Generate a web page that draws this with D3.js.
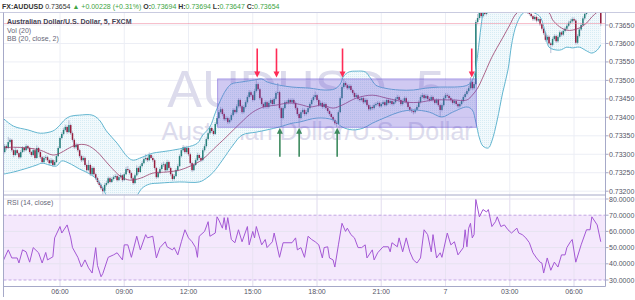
<!DOCTYPE html>
<html><head><meta charset="utf-8">
<script src="https://cdnjs.cloudflare.com/ajax/libs/d3/7.8.5/d3.min.js"></script>
<style>body{margin:0;background:#fff}svg{display:block;font-family:"Liberation Sans",Arial,sans-serif}</style>
</head><body><svg id="chart" width="635" height="300"></svg>
<script>
// ---------------- DATA ----------------
const symbol = "FX:AUDUSD";
const legendLines = ["Australian Dollar/U.S. Dollar, 5, FXCM", "Vol (20)", "BB (20, close, 2)"];
const rsiLabel = "RSI (14, close)";
const watermark = "AUDUSD, 5";
const watermarkSub = "Australian Dollar/U.S. Dollar";
const dayChange = 0.00228, dayChangePct = 0.31;
const startTime = Date.UTC(2016, 5, 6, 3, 20);   // first 5-min bar
const barMinutes = 5;
const firstOpen = 0.73315;
const closes = [
0.73306,0.73322,0.73317,0.73333,0.73339,0.73311,0.73298,0.73311,0.73303,0.73292,
0.73306,0.73317,0.73311,0.73322,0.73317,0.73306,0.73298,0.73311,0.73290,0.73317,
0.73306,0.73292,0.73279,0.73290,0.73292,0.73284,0.73276,0.73284,0.73271,0.73279,
0.73295,0.73317,0.73344,0.73355,0.73366,0.73374,0.73360,0.73379,0.73357,0.73339,
0.73319,0.73325,0.73311,0.73295,0.73284,0.73290,0.73271,0.73257,0.73271,0.73246,
0.73263,0.73246,0.73235,0.73225,0.73217,0.73208,0.73200,0.73217,0.73222,0.73235,
0.73225,0.73233,0.73238,0.73241,0.73230,0.73238,0.73243,0.73230,0.73246,0.73260,
0.73257,0.73249,0.73235,0.73222,0.73243,0.73263,0.73252,0.73268,0.73276,0.73287,
0.73290,0.73284,0.73298,0.73290,0.73284,0.73263,0.73238,0.73249,0.73260,0.73271,
0.73273,0.73257,0.73279,0.73263,0.73246,0.73233,0.73241,0.73257,0.73268,0.73295,
0.73311,0.73319,0.73306,0.73317,0.73300,0.73276,0.73257,0.73271,0.73284,0.73298,
0.73290,0.73284,0.73311,0.73322,0.73341,0.73357,0.73371,0.73363,0.73355,0.73382,
0.73398,0.73414,0.73422,0.73409,0.73395,0.73398,0.73387,0.73393,0.73406,0.73420,
0.73414,0.73430,0.73447,0.73430,0.73414,0.73428,0.73441,0.73455,0.73468,0.73460,
0.73447,0.73471,0.73490,0.73476,0.73452,0.73436,0.73428,0.73441,0.73428,0.73439,
0.73447,0.73436,0.73450,0.73466,0.73468,0.73425,0.73398,0.73425,0.73441,0.73439,
0.73447,0.73441,0.73447,0.73439,0.73425,0.73409,0.73398,0.73414,0.73420,0.73409,
0.73414,0.73425,0.73436,0.73447,0.73455,0.73460,0.73447,0.73433,0.73439,0.73428,
0.73436,0.73425,0.73417,0.73409,0.73401,0.73393,0.73384,0.73382,0.73414,0.73452,
0.73482,0.73493,0.73487,0.73479,0.73485,0.73474,0.73466,0.73455,0.73460,0.73450,
0.73447,0.73452,0.73441,0.73447,0.73433,0.73422,0.73428,0.73425,0.73433,0.73436,
0.73439,0.73430,0.73436,0.73441,0.73433,0.73447,0.73439,0.73444,0.73436,0.73441,
0.73450,0.73455,0.73447,0.73436,0.73444,0.73452,0.73441,0.73428,0.73420,0.73417,
0.73414,0.73420,0.73428,0.73441,0.73455,0.73460,0.73452,0.73458,0.73450,0.73447,
0.73455,0.73447,0.73439,0.73447,0.73433,0.73420,0.73433,0.73452,0.73460,0.73458,
0.73452,0.73447,0.73439,0.73444,0.73436,0.73430,0.73436,0.73444,0.73455,0.73463,
0.73471,0.73479,0.73496,0.73479,0.73490,0.73658,0.73669,0.73685,0.73674,0.73691,
0.73680,0.73692,0.73698,0.73690,0.73700,0.73708,0.73702,0.73712,0.73716,0.73705,
0.73708,0.73712,0.73702,0.73705,0.73698,0.73694,0.73700,0.73705,0.73708,0.73696,
0.73700,0.73692,0.73695,0.73686,0.73684,0.73680,0.73674,0.73666,0.73672,0.73662,
0.73666,0.73652,0.73640,0.73628,0.73610,0.73618,0.73600,0.73596,0.73612,0.73620,
0.73606,0.73618,0.73630,0.73624,0.73634,0.73640,0.73648,0.73656,0.73660,0.73666,
0.73662,0.73602,0.73620,0.73638,0.73650,0.73668,0.73680,0.73692,0.73688,0.73700,
0.73712,0.73700,0.73690,0.73698,0.73694,0.73654];
const highs = [
0.73321,0.73328,0.73326,0.73347,0.73344,0.73342,0.73315,0.73318,0.73314,0.73307,
0.73311,0.73322,0.73320,0.73328,0.73325,0.73320,0.73309,0.73316,0.73314,0.73324,
0.73320,0.73309,0.73296,0.73295,0.73298,0.73296,0.73288,0.73290,0.73287,0.73284,
0.73300,0.73322,0.73349,0.73360,0.73372,0.73380,0.73378,0.73392,0.73383,0.73362,
0.73343,0.73331,0.73329,0.73315,0.73299,0.73296,0.73294,0.73275,0.73284,0.73275,
0.73268,0.73267,0.73250,0.73239,0.73229,0.73221,0.73212,0.73222,0.73228,0.73240,
0.73239,0.73238,0.73243,0.73246,0.73245,0.73243,0.73249,0.73246,0.73251,0.73266,
0.73268,0.73261,0.73253,0.73239,0.73248,0.73270,0.73267,0.73273,0.73282,0.73292,
0.73300,0.73294,0.73305,0.73302,0.73296,0.73288,0.73266,0.73254,0.73265,0.73277,
0.73280,0.73277,0.73285,0.73283,0.73267,0.73250,0.73246,0.73262,0.73274,0.73300,
0.73317,0.73325,0.73323,0.73323,0.73321,0.73304,0.73280,0.73276,0.73289,0.73304,
0.73302,0.73294,0.73316,0.73328,0.73346,0.73362,0.73376,0.73375,0.73367,0.73387,
0.73403,0.73420,0.73428,0.73426,0.73413,0.73404,0.73402,0.73399,0.73411,0.73425,
0.73424,0.73436,0.73452,0.73451,0.73434,0.73433,0.73446,0.73460,0.73474,0.73472,
0.73464,0.73477,0.73504,0.73494,0.73480,0.73456,0.73440,0.73446,0.73445,0.73444,
0.73452,0.73451,0.73455,0.73471,0.73493,0.73472,0.73429,0.73430,0.73446,0.73446,
0.73452,0.73451,0.73452,0.73451,0.73443,0.73429,0.73413,0.73419,0.73426,0.73424,
0.73420,0.73430,0.73441,0.73452,0.73461,0.73470,0.73464,0.73451,0.73445,0.73443,
0.73441,0.73440,0.73429,0.73421,0.73413,0.73405,0.73397,0.73390,0.73419,0.73457,
0.73488,0.73504,0.73498,0.73491,0.73490,0.73489,0.73478,0.73470,0.73466,0.73464,
0.73455,0.73458,0.73456,0.73452,0.73451,0.73437,0.73433,0.73433,0.73438,0.73441,
0.73444,0.73443,0.73441,0.73446,0.73445,0.73452,0.73451,0.73449,0.73448,0.73446,
0.73455,0.73461,0.73459,0.73451,0.73449,0.73457,0.73456,0.73445,0.73432,0.73425,
0.73421,0.73425,0.73433,0.73446,0.73460,0.73466,0.73464,0.73463,0.73462,0.73455,
0.73460,0.73459,0.73451,0.73452,0.73451,0.73437,0.73438,0.73457,0.73466,0.73465,
0.73462,0.73456,0.73451,0.73449,0.73448,0.73440,0.73441,0.73449,0.73460,0.73468,
0.73476,0.73485,0.73509,0.73500,0.73496,0.73664,0.73680,0.73692,0.73690,0.73698,
0.73696,0.73697,0.73703,0.73702,0.73705,0.73713,0.73712,0.73717,0.73722,0.73720,
0.73713,0.73717,0.73716,0.73710,0.73709,0.73702,0.73705,0.73710,0.73713,0.73712,
0.73705,0.73704,0.73700,0.73699,0.73690,0.73688,0.73684,0.73678,0.73677,0.73676,
0.73671,0.73670,0.73656,0.73644,0.73632,0.73623,0.73622,0.73604,0.73617,0.73625,
0.73624,0.73623,0.73635,0.73634,0.73639,0.73645,0.73653,0.73661,0.73666,0.73671,
0.73671,0.73666,0.73625,0.73643,0.73655,0.73673,0.73686,0.73698,0.73697,0.73706,
0.73718,0.73716,0.73704,0.73703,0.73702,0.73694];
const lows = [
0.73300,0.73302,0.73311,0.73314,0.73328,0.73306,0.73292,0.73295,0.73298,0.73287,
0.73289,0.73303,0.73306,0.73308,0.73312,0.73301,0.73293,0.73295,0.73285,0.73288,
0.73302,0.73287,0.73274,0.73276,0.73284,0.73279,0.73270,0.73273,0.73266,0.73268,
0.73276,0.73292,0.73314,0.73340,0.73351,0.73362,0.73355,0.73357,0.73352,0.73334,
0.73314,0.73315,0.73306,0.73290,0.73279,0.73280,0.73266,0.73252,0.73254,0.73241,
0.73243,0.73241,0.73230,0.73220,0.73212,0.73203,0.73190,0.73197,0.73213,0.73219,
0.73221,0.73222,0.73229,0.73234,0.73226,0.73227,0.73234,0.73225,0.73227,0.73243,
0.73252,0.73245,0.73230,0.73217,0.73219,0.73240,0.73247,0.73249,0.73264,0.73273,
0.73283,0.73279,0.73281,0.73286,0.73279,0.73258,0.73233,0.73235,0.73246,0.73256,
0.73266,0.73252,0.73254,0.73258,0.73241,0.73228,0.73229,0.73238,0.73253,0.73265,
0.73291,0.73307,0.73301,0.73302,0.73295,0.73271,0.73252,0.73254,0.73268,0.73281,
0.73285,0.73279,0.73281,0.73307,0.73318,0.73337,0.73353,0.73358,0.73350,0.73352,
0.73378,0.73395,0.73410,0.73404,0.73390,0.73390,0.73382,0.73383,0.73389,0.73402,
0.73409,0.73410,0.73426,0.73425,0.73409,0.73410,0.73424,0.73437,0.73451,0.73455,
0.73442,0.73444,0.73467,0.73471,0.73447,0.73431,0.73423,0.73424,0.73423,0.73424,
0.73435,0.73431,0.73432,0.73446,0.73461,0.73420,0.73374,0.73394,0.73421,0.73434,
0.73435,0.73436,0.73437,0.73434,0.73420,0.73404,0.73374,0.73394,0.73410,0.73404,
0.73405,0.73410,0.73421,0.73432,0.73443,0.73450,0.73442,0.73428,0.73429,0.73423,
0.73424,0.73420,0.73412,0.73404,0.73396,0.73388,0.73379,0.73374,0.73379,0.73411,
0.73448,0.73478,0.73482,0.73474,0.73475,0.73469,0.73461,0.73450,0.73451,0.73445,
0.73442,0.73443,0.73436,0.73437,0.73428,0.73417,0.73418,0.73420,0.73421,0.73429,
0.73432,0.73426,0.73426,0.73432,0.73429,0.73430,0.73435,0.73435,0.73432,0.73432,
0.73437,0.73446,0.73443,0.73431,0.73432,0.73440,0.73436,0.73423,0.73415,0.73412,
0.73408,0.73410,0.73416,0.73424,0.73437,0.73451,0.73447,0.73448,0.73445,0.73442,
0.73443,0.73442,0.73434,0.73435,0.73428,0.73400,0.73416,0.73429,0.73448,0.73453,
0.73447,0.73442,0.73434,0.73435,0.73431,0.73425,0.73426,0.73432,0.73440,0.73451,
0.73459,0.73467,0.73475,0.73474,0.73475,0.73487,0.73652,0.73664,0.73668,0.73670,
0.73676,0.73676,0.73688,0.73686,0.73687,0.73696,0.73698,0.73699,0.73708,0.73701,
0.73701,0.73704,0.73698,0.73698,0.73694,0.73690,0.73690,0.73696,0.73701,0.73692,
0.73692,0.73688,0.73688,0.73682,0.73680,0.73676,0.73670,0.73661,0.73662,0.73657,
0.73658,0.73647,0.73635,0.73623,0.73605,0.73606,0.73595,0.73574,0.73592,0.73608,
0.73601,0.73602,0.73614,0.73619,0.73620,0.73630,0.73636,0.73644,0.73652,0.73656,
0.73657,0.73597,0.73598,0.73616,0.73634,0.73646,0.73664,0.73676,0.73683,0.73684,
0.73696,0.73695,0.73685,0.73686,0.73690,0.73647];
// Bollinger bands: [bar index, price]
const bbUpper = [[0,0.73398],[6,0.73376],[14,0.73366],[21,0.73357],[28,0.73363],[31,0.73374],[35,0.73395],[38,0.73403],[43,0.73406],[50,0.73406],[54,0.73393],[58,0.73363],[64,0.73330],[70,0.73292],[73,0.73284],[78,0.73292],[84,0.73303],[88,0.73306],[95,0.73311],[103,0.73319],[109,0.73330],[112,0.73352],[116,0.73374],[119,0.73412],[122,0.73447],[125,0.73474],[128,0.73490],[134,0.73496],[141,0.73501],[145,0.73504],[148,0.73496],[155,0.73487],[162,0.73482],[172,0.73479],[180,0.73474],[186,0.73477],[189,0.73490],[191,0.73512],[194,0.73523],[198,0.73525],[203,0.73523],[206,0.73506],[209,0.73487],[214,0.73479],[222,0.73474],[230,0.73474],[237,0.73479],[245,0.73482],[253,0.73482],[259,0.73485],[262,0.73493],[264,0.73512],[265,0.73533],[266,0.73569],[267,0.73609],[268,0.73650],[269,0.73685],[271,0.73750],[275,0.73800],[280,0.73820],[285,0.73815],[290,0.73790],[295,0.73760],[300,0.73740],[306,0.73760],[312,0.73755],[318,0.73745],[324,0.73740],[330,0.73755],[335,0.73770]];
const bbBasis = [[0,0.73317],[6,0.73319],[14,0.73317],[21,0.73311],[28,0.73298],[32,0.73303],[36,0.73314],[41,0.73325],[47,0.73325],[53,0.73306],[56,0.73290],[60,0.73268],[66,0.73240],[71,0.73230],[77,0.73235],[84,0.73249],[92,0.73252],[99,0.73257],[105,0.73268],[110,0.73280],[114,0.73295],[118,0.73314],[125,0.73346],[133,0.73384],[140,0.73414],[146,0.73428],[153,0.73433],[161,0.73439],[168,0.73433],[172,0.73428],[179,0.73433],[185,0.73425],[190,0.73433],[198,0.73452],[207,0.73460],[215,0.73452],[226,0.73441],[234,0.73441],[241,0.73447],[252,0.73447],[260,0.73447],[263,0.73460],[266,0.73479],[269,0.73509],[274,0.73563],[280,0.73615],[284,0.73650],[287,0.73677],[290,0.73690],[295,0.73695],[300,0.73690],[306,0.73683],[308,0.73664],[312,0.73645],[316,0.73636],[319,0.73636],[323,0.73642],[327,0.73655],[330,0.73672],[333,0.73685],[335,0.73696]];
const bbLower = [[0,0.73246],[6,0.73252],[14,0.73263],[19,0.73271],[22,0.73276],[26,0.73271],[30,0.73268],[33,0.73282],[37,0.73276],[43,0.73260],[49,0.73246],[53,0.73230],[56,0.73208],[58,0.73187],[60,0.73168],[66,0.73154],[71,0.73162],[75,0.73187],[78,0.73208],[82,0.73219],[88,0.73222],[99,0.73225],[110,0.73225],[114,0.73235],[118,0.73252],[123,0.73284],[129,0.73325],[134,0.73352],[142,0.73360],[148,0.73366],[155,0.73374],[162,0.73384],[166,0.73387],[176,0.73398],[185,0.73393],[190,0.73374],[196,0.73366],[202,0.73371],[207,0.73384],[215,0.73401],[222,0.73414],[230,0.73420],[239,0.73414],[246,0.73401],[252,0.73414],[260,0.73428],[263,0.73420],[265,0.73387],[267,0.73344],[269,0.73322],[272,0.73317],[274,0.73336],[277,0.73393],[280,0.73466],[283,0.73528],[285,0.73596],[287,0.73640],[289,0.73665],[291,0.73680],[294,0.73688],[298,0.73682],[301,0.73672],[304,0.73628],[306,0.73590],[312,0.73582],[316,0.73590],[319,0.73588],[323,0.73590],[327,0.73580],[330,0.73574],[333,0.73582],[335,0.73596]];
// RSI (14): [bar index, value]
const rsi = [[0,41.4],[3,48.6],[5,43.6],[8,43.6],[9,40.5],[11,48.6],[13,47.4],[15,41],[17,50],[20,46.8],[22,40.5],[24,47],[25,42.4],[28,44.3],[29,56],[32,63],[33,59],[36,64],[38,56],[39,50],[42,44],[44,38],[46,42.4],[48,37.5],[50,34.3],[52,50],[53,39],[55,32],[56,34],[59,44],[62,45.5],[64,46.8],[67,42.4],[68,51.7],[70,51.7],[72,44],[75,57],[77,48.6],[80,58],[81,56],[84,57],[86,43.6],[88,50],[91,53.6],[92,50.5],[95,48.6],[96,50],[98,45.5],[100,53.6],[102,61],[104,56],[106,53.6],[108,50],[109,44],[110,57],[113,60],[115,66],[116,57],[119,59],[120,69],[121,67],[123,62],[124,68.5],[125,61],[126,68.5],[128,55],[130,53],[132,61],[134,53.6],[137,63],[138,51.7],[140,60],[141,56],[142,63],[145,51.7],[147,55],[148,50],[151,53.6],[152,59],[155,44],[157,53],[162,53],[164,56],[165,48.6],[167,50],[169,44],[171,57],[173,55],[175,53.6],[177,51.7],[179,43.6],[180,50],[182,50.5],[183,43.6],[185,42.4],[186,38],[188,51.7],[190,65],[192,60],[193,62],[195,58],[197,56],[199,50],[201,50],[203,51.7],[204,43.6],[207,48.6],[208,42.4],[210,46.8],[213,50.5],[216,50.5],[217,47.4],[218,53],[221,50.5],[222,56],[224,47.4],[226,56],[228,47.4],[230,42.4],[232,40.5],[234,43.6],[236,61],[238,58],[240,47.4],[241,58],[243,43.6],[245,46.8],[246,44],[249,59],[251,51.7],[253,53.6],[255,45.5],[258,50],[259,61],[260,50.5],[261,62],[262,65],[263,56],[264,58],[265,79.7],[267,69],[269,73.5],[271,72],[272,73.5],[274,63],[276,66],[277,69],[279,63],[281,64],[283,61],[285,59],[288,62],[289,59],[291,58],[293,56],[295,53],[297,46.8],[299,43.6],[301,41],[302,40.5],[303,34.3],[305,43.6],[307,36],[309,41],[311,38],[313,45.5],[315,45.5],[316,50],[318,53.6],[319,55],[321,41],[324,51.7],[327,61],[329,61],[330,69],[333,64],[335,53.6]];
const priceTicks = [0.7365,0.7360,0.7355,0.7350,0.7345,0.7340,0.7335,0.7330,0.7325,0.7320];
const rsiTicks = [80,70,60,50,40,30];
const rsiBands = [70,30];
const timeTicks = ["2016-06-06T06:00Z","2016-06-06T09:00Z","2016-06-06T12:00Z","2016-06-06T15:00Z","2016-06-06T18:00Z","2016-06-06T21:00Z","2016-06-07T00:00Z","2016-06-07T03:00Z","2016-06-07T06:00Z"];
const timeTickLabels = ["06:00","09:00","12:00","15:00","18:00","21:00","7","03:00","06:00"];
// drawings
const boxBars = [120.3, 265.3], boxPrices = [0.73504, 0.73373];
const redArrowBars = [142.5, 153.3, 190.3, 262.7], redArrowTip = 0.73508;
const greenArrowBars = [155.2, 166, 187.3], greenArrowTip = 0.73372;

// ---------------- SCALES ----------------
const x = d3.scaleUtc().domain([new Date(timeTicks[0]), new Date(timeTicks[8])]).range([60, 574]);
const xb = i => x(new Date(startTime + i * barMinutes * 60000));
const y = d3.scaleLinear().domain([0.7320, 0.7365]).range([191.2, 25]);
const yr = d3.scaleLinear().domain([30, 80]).range([280, 199]);

const L = 3.5, R = 605.5, PT = 12.5, PB = 194.5, RT = 195.5, RB = 286.5;
const svg = d3.select("#chart");
const defs = svg.append("defs");
defs.append("clipPath").attr("id","cp").append("rect").attr("x",L).attr("y",PT+0.5).attr("width",R-L).attr("height",PB-PT-0.5);
defs.append("clipPath").attr("id","cr").append("rect").attr("x",L).attr("y",RT).attr("width",R-L).attr("height",RB-RT);
const pat = defs.append("pattern").attr("id","dots").attr("width",2).attr("height",2).attr("patternUnits","userSpaceOnUse");
pat.append("rect").attr("width",2).attr("height",2).attr("fill","#f2f9fc");
pat.append("rect").attr("width",1).attr("height",1).attr("fill","#d6ecf4");

const gridC = "#eceef5";
// grids
const grid = svg.append("g");
grid.selectAll(".vg").data(timeTicks).join("line").attr("x1",d=>x(new Date(d))).attr("x2",d=>x(new Date(d))).attr("y1",PT).attr("y2",RB).attr("stroke",gridC);
grid.selectAll(".hg").data(priceTicks).join("line").attr("x1",L).attr("x2",R).attr("y1",d=>y(d)).attr("y2",d=>y(d)).attr("stroke",gridC);

// RSI panel background
const rp = svg.append("g").attr("clip-path","url(#cr)");
rp.append("rect").attr("x",L).attr("width",R-L).attr("y",yr(rsiBands[0])).attr("height",yr(rsiBands[1])-yr(rsiBands[0])).attr("fill","#f4e8fc");
rp.selectAll(".rg").data(rsiTicks.filter(v=>!rsiBands.includes(v))).join("line").attr("x1",L).attr("x2",R).attr("y1",d=>yr(d)).attr("y2",d=>yr(d)).attr("stroke","#e6e3f0");
rp.selectAll(".vg").data(timeTicks).join("line").attr("x1",d=>x(new Date(d))).attr("x2",d=>x(new Date(d))).attr("y1",RT).attr("y2",RB).attr("stroke","#e8e2f2");
rp.selectAll(".rb").data(rsiBands).join("line").attr("x1",L).attr("x2",R).attr("y1",d=>yr(d)).attr("y2",d=>yr(d)).attr("stroke","#c2a6e4").attr("stroke-dasharray","3,2");
rp.append("path").datum(rsi).attr("d",d3.line().x(d=>xb(d[0])).y(d=>yr(d[1]))).attr("fill","none").attr("stroke","#a357d4").attr("stroke-width",1);

// price panel
const pp = svg.append("g").attr("clip-path","url(#cp)");
pp.append("text").attr("x",306).attr("y",107).attr("text-anchor","middle").attr("font-size",52).attr("fill","#dcdbec").text(watermark);
pp.append("text").attr("x",317).attr("y",140).attr("text-anchor","middle").attr("font-size",25).attr("fill","#dcdbec").text(watermarkSub);

const curve = d3.curveCatmullRom.alpha(0.5);
const bl = d3.line().x(d=>xb(d[0])).y(d=>y(d[1])).curve(curve);
const upP = bl(bbUpper), loRev = bl(bbLower.slice().reverse());
pp.append("path").attr("d", upP + "L" + loRev.slice(1) + "Z").attr("fill","url(#dots)");

// candles
const bars = closes.map((c,i)=>{const o = i ? closes[i-1] : firstOpen; return {i,o,c,h:Math.max(highs[i],o,c),l:Math.min(lows[i],o,c)};});
const gc = pp.append("g");
gc.selectAll(".w").data(bars).join("line").attr("x1",d=>xb(d.i)).attr("x2",d=>xb(d.i)).attr("y1",d=>y(d.h)).attr("y2",d=>y(d.l)).attr("stroke","#9aa3c4").attr("stroke-width",0.7);
gc.selectAll(".b").data(bars).join("rect").attr("x",d=>xb(d.i)-0.75).attr("width",1.5)
  .attr("y",d=>y(Math.max(d.o,d.c))).attr("height",d=>Math.max(0.7,Math.abs(y(d.o)-y(d.c))))
  .attr("fill",d=>d.c>=d.o?"#25807a":"#961d3d");

pp.append("path").attr("d",bl(bbUpper)).attr("fill","none").attr("stroke","#62b5cf").attr("stroke-width",1);
pp.append("path").attr("d",bl(bbLower)).attr("fill","none").attr("stroke","#62b5cf").attr("stroke-width",1);
pp.append("path").attr("d",bl(bbBasis)).attr("fill","none").attr("stroke","#9b3f6c").attr("stroke-width",0.8);

// range box
pp.append("rect").attr("x",xb(boxBars[0])).attr("width",xb(boxBars[1])-xb(boxBars[0]))
  .attr("y",y(boxPrices[0])).attr("height",y(boxPrices[1])-y(boxPrices[0]))
  .attr("fill","rgba(110,86,214,0.32)").attr("stroke","rgba(110,86,214,0.5)").attr("stroke-width",1);

// arrows
const AL = 29;
redArrowBars.forEach(b=>{const ax=xb(b), ty=y(redArrowTip);
  pp.append("line").attr("x1",ax).attr("x2",ax).attr("y1",ty-AL).attr("y2",ty-4).attr("stroke","#ff2b56").attr("stroke-width",1.6);
  pp.append("path").attr("d",`M${ax-3},${ty-6}L${ax+3},${ty-6}L${ax},${ty}Z`).attr("fill","#ff2b56");});
greenArrowBars.forEach(b=>{const ax=xb(b), ty=y(greenArrowTip);
  pp.append("line").attr("x1",ax).attr("x2",ax).attr("y1",ty+AL).attr("y2",ty+4).attr("stroke","#3d8a5e").attr("stroke-width",1.6);
  pp.append("path").attr("d",`M${ax-3},${ty+6}L${ax+3},${ty+6}L${ax},${ty}Z`).attr("fill","#3d8a5e");});

// last price line
const last = closes[closes.length-1];
pp.append("line").attr("x1",L).attr("x2",R).attr("y1",y(last)).attr("y2",y(last)).attr("stroke","#ee7f98").attr("stroke-dasharray","1,1");

// frame
const fc = "#a6a9c8";
svg.append("line").attr("x1",0).attr("x2",635).attr("y1",PT).attr("y2",PT).attr("stroke","#c9cbe0");
svg.append("line").attr("x1",L).attr("x2",L).attr("y1",PT).attr("y2",297).attr("stroke",fc);
svg.append("line").attr("x1",R).attr("x2",R).attr("y1",PT).attr("y2",RB).attr("stroke",fc);
svg.append("line").attr("x1",L).attr("x2",R).attr("y1",195).attr("y2",195).attr("stroke",fc);
svg.append("line").attr("x1",L).attr("x2",R).attr("y1",RB).attr("y2",RB).attr("stroke",fc);

// axes labels
const tc = "#555566";
const ya = svg.append("g").attr("font-size",7).attr("fill",tc);
ya.selectAll(".pt").data(priceTicks).join("text").attr("x",609).attr("y",d=>y(d)+2.5).text(d=>d3.format(".5f")(d));
ya.selectAll(".ptk").data(priceTicks).join("line").attr("x1",R).attr("x2",R+3).attr("y1",d=>y(d)).attr("y2",d=>y(d)).attr("stroke",fc);
ya.selectAll(".rt").data(rsiTicks).join("text").attr("x",609).attr("y",d=>yr(d)+2.5).text(d=>d3.format(".4f")(d));
ya.selectAll(".rtk").data(rsiTicks).join("line").attr("x1",R).attr("x2",R+3).attr("y1",d=>yr(d)).attr("y2",d=>yr(d)).attr("stroke",fc);
ya.selectAll(".tt").data(timeTicks).join("text").attr("x",d=>x(new Date(d))).attr("y",294).attr("text-anchor","middle").text((d,i)=>timeTickLabels[i]);

// header
const fmt5 = d3.format(".5f");
const lb = bars[bars.length-1];
const hdr = svg.append("text").attr("x",2).attr("y",8.5).attr("font-size",7).attr("style","white-space:pre");
const green = "#3ea443";
[[symbol+" ","#333",700],[fmt5(lb.c)+" ","#333",400],["▲ +"+fmt5(dayChange)+" (+"+dayChangePct.toFixed(2)+"%) ",green,400],
 ["O:","#333",700],[fmt5(lb.o)+" ",green,400],["H:","#333",700],[fmt5(lb.h)+" ",green,400],
 ["L:","#333",700],[fmt5(lb.l)+" ",green,400],["C:","#333",700],[fmt5(lb.c),green,400]]
 .forEach(([t,c,w])=>hdr.append("tspan").attr("fill",c).attr("font-weight",w).text(t));

// legend
svg.selectAll(".lg").data(legendLines).join("text").attr("x",7).attr("y",(d,i)=>24+i*8.6).attr("font-size",7)
  .attr("fill",(d,i)=>i?"#666677":"#444455").attr("font-weight",(d,i)=>i?400:700).text(d=>d);
svg.append("text").attr("x",7).attr("y",204.5).attr("font-size",7).attr("fill","#666677").text(rsiLabel);
</script></body></html>
